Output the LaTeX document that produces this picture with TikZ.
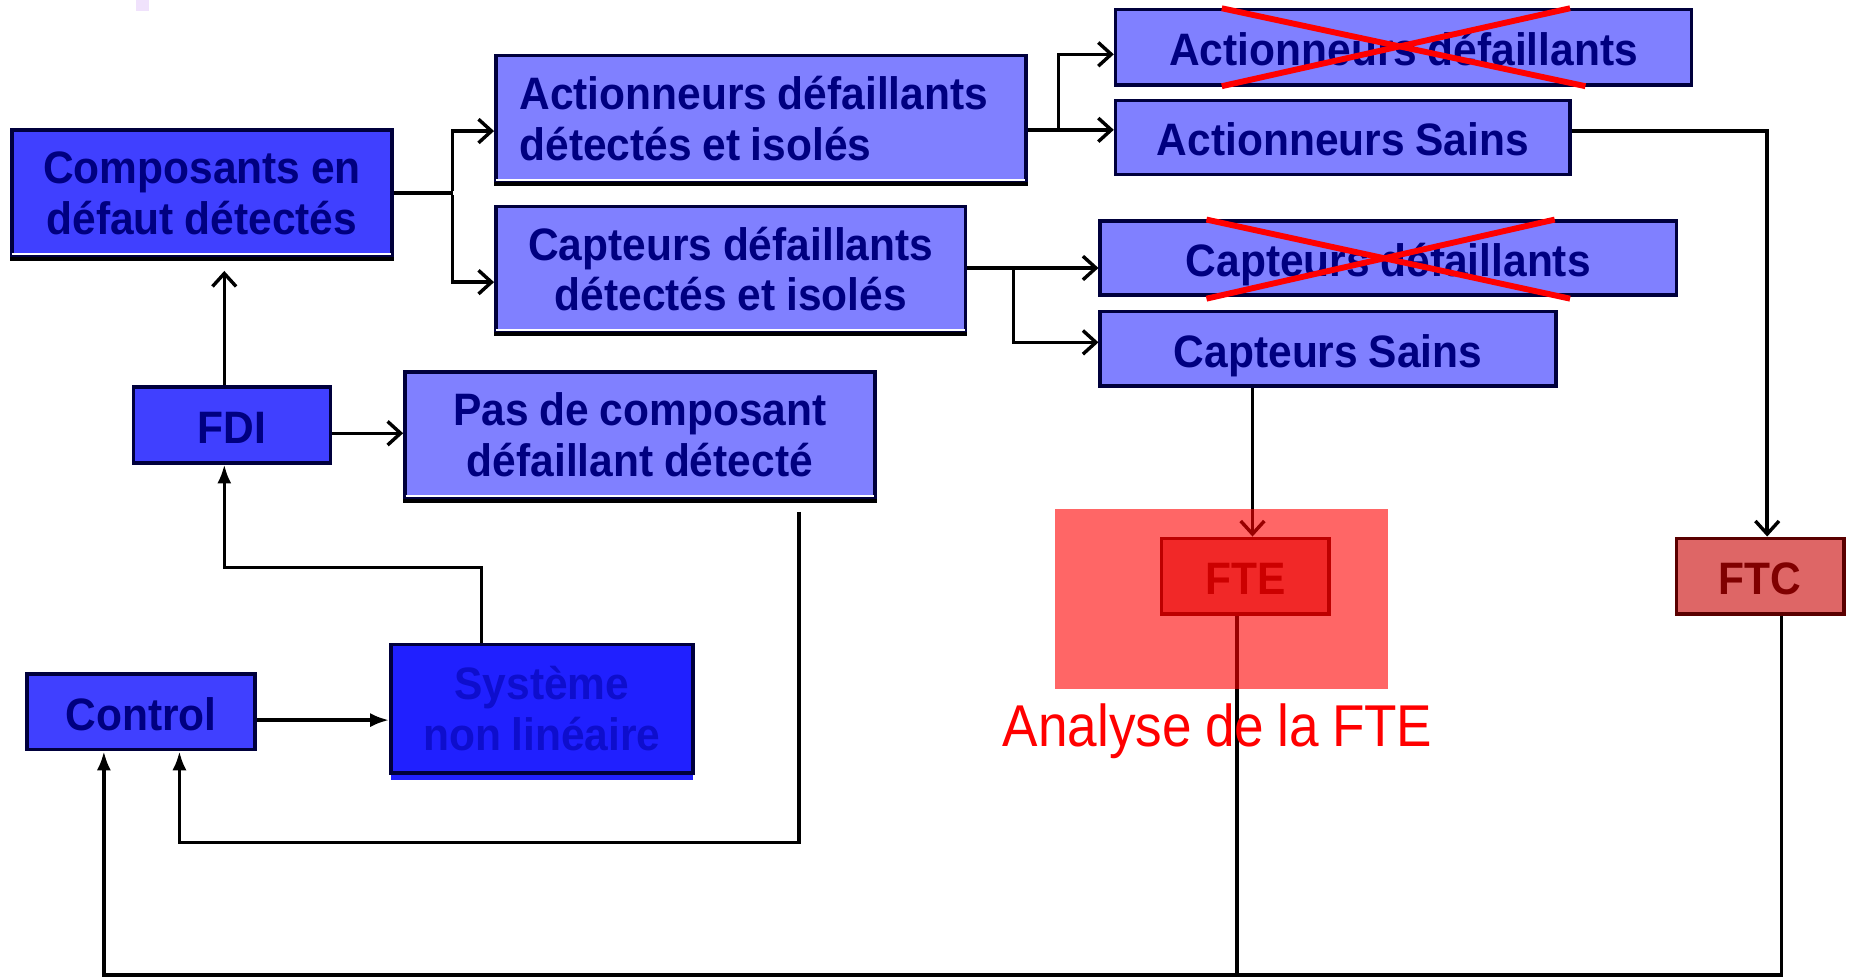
\documentclass[tikz,border=0pt]{standalone}
\usepackage{fontspec}
\setmainfont{Liberation Sans}[FakeStretch=0.935, WordSpace=0.9]
\newfontfamily\labelfont{Liberation Sans}[FakeStretch=0.9, WordSpace=0.9]
\usetikzlibrary{arrows.meta}
\definecolor{boxdeep}{RGB}{64,64,255}
\definecolor{boxlight}{RGB}{128,128,255}
\definecolor{boxsys}{RGB}{32,32,255}
\definecolor{inknavy}{RGB}{0,0,128}
\definecolor{inksys}{RGB}{14,14,205}
\definecolor{edgenavy}{RGB}{0,0,60}
\definecolor{ftfill}{RGB}{222,102,102}
\definecolor{ftink}{RGB}{128,0,0}
\definecolor{ftedge}{RGB}{90,0,0}
\definecolor{lavender}{RGB}{240,226,252}
\begin{document}
\begin{tikzpicture}[x=1pt, y=-1pt, line width=2.9pt,
  blk/.style={rectangle, draw=edgenavy, line width=3pt, inner sep=0pt,
    font=\bfseries\fontsize{38.5}{43}\selectfont, text=inknavy, align=center},
  oneline/.style={text height=31pt, text depth=0pt},
  deep/.style={blk, fill=boxdeep},
  light/.style={blk, fill=boxlight},
  ftbox/.style={blk, oneline, fill=ftfill, draw=ftedge, text=ftink,
    minimum width=142, minimum height=64},
  oarrow/.style={-{Straight Barb[length=11pt,width=20pt]}},
  farrow/.style={-{Latex[length=16pt,width=12pt]}},
  cross/.style={red, line width=5pt}]
\useasboundingbox (0,0) rectangle (1568,828);
\fill[lavender] (115,0) rectangle (126,9);

% boxes of the fault detection chain
\node[deep, minimum width=322, minimum height=107] (comp) at (171,163.5) {Composants en\\d\'efaut d\'etect\'es};
\node[light, minimum width=449, minimum height=107, text width=409, align=flush left] (actdi) at (644.5,100.5) {Actionneurs d\'efaillants\\d\'etect\'es et isol\'es};
\node[light, minimum width=398, minimum height=106] (captdi) at (619,228) {Capteurs d\'efaillants\\d\'etect\'es et isol\'es};
\node[light, oneline, minimum width=488, minimum height=64] (actd) at (1189,40) {Actionneurs d\'efaillants};
\node[light, oneline, minimum width=385, minimum height=63] (acts) at (1137.5,116.5) {Actionneurs Sains};
\node[light, oneline, minimum width=488, minimum height=63] (captd) at (1176,218.5) {Capteurs d\'efaillants};
\node[light, oneline, minimum width=386, minimum height=63] (capts) at (1125,295.5) {Capteurs Sains};
\node[deep, oneline, minimum width=167, minimum height=64] (fdi) at (196.5,360) {FDI};
\node[light, minimum width=398, minimum height=107] (pas) at (542,368.5) {Pas de composant\\d\'efaillant d\'etect\'e};
\node[deep, oneline, minimum width=193, minimum height=64] (ctrl) at (119.5,603) {Control};
\fill[boxsys] (331,650) rectangle (587,661);
\node[blk, fill=boxsys, text=inksys, minimum width=256, minimum height=109] (sys) at (459,600.5) {Syst\`eme\\non lin\'eaire};
\node[ftbox] (fte) at (1055,488) {FTE};
\node[ftbox] (ftc) at (1491,488) {FTC};

% shadow edge under the large boxes
\foreach \n in {comp,actdi,captdi,pas}{
  \draw[white, line width=1.6pt] ([xshift=2pt,yshift=3pt]\n.south west) -- ([xshift=-2pt,yshift=3pt]\n.south east);
  \draw[black, line width=3.4pt] ([yshift=-0.5pt]\n.south west) -- ([yshift=-0.5pt]\n.south east);
}

% crossed-out faulty components
\draw[cross] (1035,7) -- (1343,73);
\draw[cross] (1035,73) -- (1330,7);
\draw[cross] (1022,186) -- (1330,253);
\draw[cross] (1022,253) -- (1317,186);

% connectors
\draw (comp.east) -- ++(50,0) coordinate (b1);
\draw[oarrow] ([yshift=2pt]b1) |- ([yshift=-10.5pt]actdi.west);
\draw[oarrow] ([yshift=-2pt]b1) |- ([yshift=-11pt]captdi.west);
\draw[oarrow] ([yshift=-9.5pt]actdi.east) -- ([yshift=-9.5pt]actdi.east -| acts.west);
\draw[oarrow] ([yshift=-9.5pt,xshift=26pt]actdi.east) |- ([yshift=-6pt]actd.west);
\draw[oarrow] ([yshift=1pt]captdi.east) -- ([yshift=1pt]captdi.east -| captd.west);
\draw[oarrow] ([yshift=1pt,xshift=39pt]captdi.east) |- ([yshift=5.5pt]capts.west);
\draw[oarrow] ([yshift=5.5pt]acts.east) -| ([xshift=6pt]ftc.north);
\draw[oarrow] ([xshift=-64pt]capts.south) -- ([xshift=-64pt]capts.south |- fte.north);
\draw[oarrow, shorten >=11pt] ([xshift=-6.5pt]fdi.north) -- ([xshift=-6.5pt]fdi.north |- comp.south);
\draw[oarrow] ([yshift=-7pt]fdi.east) -- ([yshift=-7pt]fdi.east -| pas.west);
\draw[farrow] ([yshift=-7pt]ctrl.east) -- ([yshift=-7pt]ctrl.east -| sys.west);
\draw[farrow] ([xshift=-51pt]sys.north) -- ++(0,-64) -| ([xshift=-6.5pt]fdi.south);
\draw[farrow] ([xshift=135pt,yshift=-10pt]pas.south) -- ++(0,280) -| ([xshift=32.5pt]ctrl.south);
\coordinate (floor) at (0,826);
\draw[farrow] ([xshift=18pt]ftc.south) -- ([xshift=18pt]ftc.south |- floor) -| ([xshift=-31.5pt]ctrl.south);
\draw ([xshift=-7pt]fte.south) -- ([xshift=-7pt]fte.south |- floor);

% highlighted area around FTE
\fill[red, opacity=0.6] (894,431) rectangle (1176,584);
\node[anchor=base, text=red, font=\labelfont\fontsize{50}{55}\selectfont, inner sep=0pt] (ana) at (1031.5,632) {Analyse de la FTE};
\end{tikzpicture}
\end{document}
